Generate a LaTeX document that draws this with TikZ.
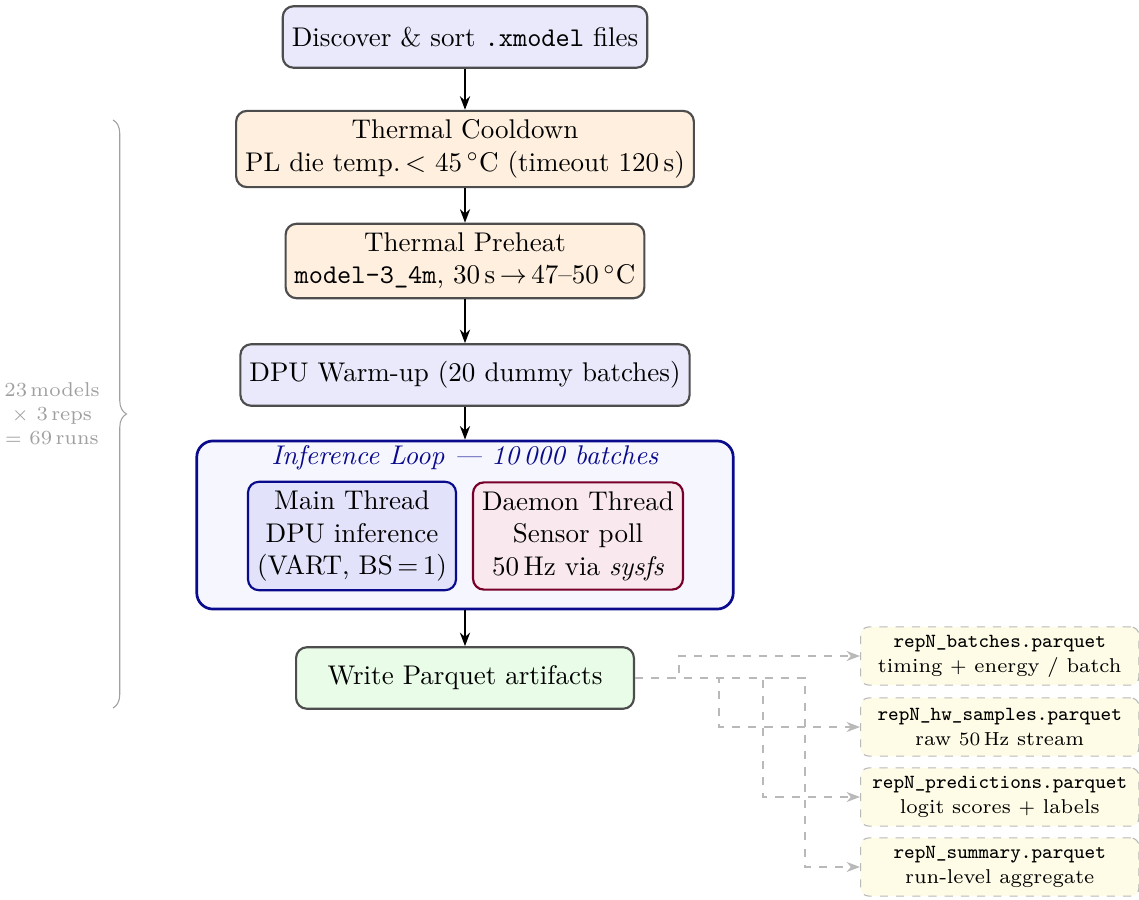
\documentclass[tikz,border=0pt]{standalone}
\usepackage{siunitx}
\usetikzlibrary{arrows.meta,decorations.pathreplacing}

\definecolor{stagegray}{RGB}{77,77,77}
\definecolor{lavender}{RGB}{233,233,251}
\definecolor{peach}{RGB}{254,239,222}
\definecolor{mint}{RGB}{232,252,232}
\definecolor{cream}{RGB}{254,252,230}
\definecolor{loopfill}{RGB}{245,246,254}
\definecolor{loopnavy}{RGB}{10,10,140}
\definecolor{mainfill}{RGB}{226,226,250}
\definecolor{daemonfill}{RGB}{249,233,239}
\definecolor{daemonred}{RGB}{120,0,40}
\definecolor{linkgray}{RGB}{185,185,185}
\definecolor{notegray}{RGB}{160,160,160}

\tikzset{
  stagebox/.style={draw=stagegray, thick, rounded corners=4pt, align=center, minimum height=8mm},
  threadbox/.style={thick, rounded corners=4pt, align=center},
  filebox/.style={draw=linkgray, dashed, fill=cream, rounded corners=3pt, align=center,
    font=\fontsize{7.4pt}{9.2pt}\selectfont, inner sep=2pt, minimum width=103pt, minimum height=21.5pt, anchor=west},
  flowarrow/.style={thick, -{Stealth[length=5pt]}},
  filelink/.style={linkgray, dashed, -{Stealth[length=5pt]}}
}

\begin{document}
\begin{tikzpicture}[x=0.37pt, y=-0.37pt]

\useasboundingbox (0,0) rectangle (1139,900);

\node[stagebox, fill=lavender] (discover) at (465,37) {Discover \& sort \texttt{.xmodel} files};
\node[stagebox, fill=peach] (cooldown) at (465,149) {Thermal Cooldown\\PL die temp.\,$<$ \SI{45}{\celsius} (timeout \SI{120}{\second})};
\node[stagebox, fill=peach] (preheat) at (465,261) {Thermal Preheat\\\texttt{model-3\_4m}, \SI{30}{\second}\,$\rightarrow$\,47--\SI{50}{\celsius}};
\node[stagebox, fill=lavender] (warmup) at (465,375) {DPU Warm-up (20 dummy batches)};

% inference loop
\node[draw=loopnavy, line width=1pt, fill=loopfill, rounded corners=6pt,
  minimum width=198.5pt, minimum height=62.2pt] (loop) at (465,525) {};
\node[text=loopnavy, font=\itshape] (looptitle) at (465,458) {Inference Loop --- 10\,000 batches};
\node[threadbox, draw=loopnavy, fill=mainfill] (mainthr) at (352,536) {Main Thread\\DPU inference\\(VART, BS\,$=$\,1)};
\node[threadbox, draw=daemonred, fill=daemonfill] (daemon) at (578,536) {Daemon Thread\\Sensor poll\\\SI{50}{\hertz} via \textit{sysfs}};

\node[stagebox, fill=mint, minimum width=125pt] (write) at (465,678) {Write Parquet artifacts};

\draw[flowarrow] (discover) -- (cooldown);
\draw[flowarrow] (cooldown) -- (preheat);
\draw[flowarrow] (preheat) -- (warmup);
\draw[flowarrow] (warmup) -- (loop);
\draw[flowarrow] (loop) -- (write);

% output files
\node[filebox] (batches) at (860,656) {\texttt{repN\_batches.parquet}\\timing $+$ energy / batch};
\node[filebox] (hwsamples) at (860,727) {\texttt{repN\_hw\_samples.parquet}\\raw \SI{50}{\hertz} stream};
\node[filebox] (predictions) at (860,797) {\texttt{repN\_predictions.parquet}\\logit scores $+$ labels};
\node[filebox] (summary) at (860,867) {\texttt{repN\_summary.parquet}\\run-level aggregate};

\draw[filelink] (write.east) -- ++(44,0) |- (batches.west);
\draw[filelink] (write.east) -- ++(84,0) |- (hwsamples.west);
\draw[filelink] (write.east) -- ++(128,0) |- (predictions.west);
\draw[filelink] (write.east) -- ++(170,0) |- (summary.west);

% repetition brace
\draw[notegray, decorate, decoration={brace, amplitude=5pt}] (113,120) -- (113,708);
\node[notegray, font=\fontsize{7.4pt}{8.8pt}\selectfont, align=center] (runs) at (52,414) {23\,models\\$\times$ 3\,reps\\$=$ 69\,runs};

\end{tikzpicture}
\end{document}
